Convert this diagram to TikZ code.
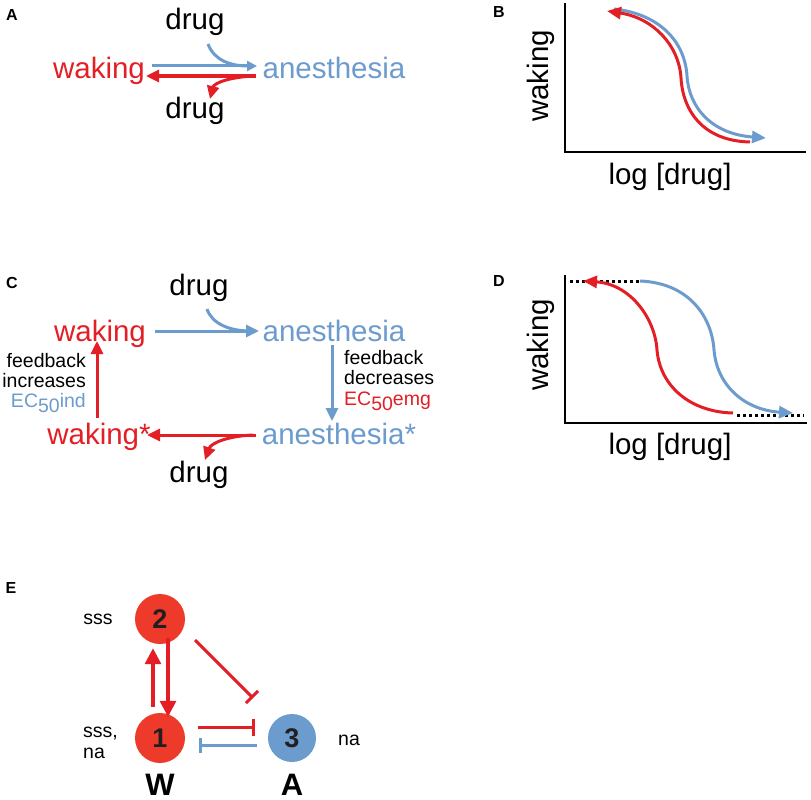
\documentclass[tikz,border=0pt]{standalone}
\usepackage{fontspec}
\setmainfont{Liberation Sans}
\usetikzlibrary{arrows.meta,calc}
\definecolor{wred}{RGB}{227,30,36}
\definecolor{nred}{RGB}{238,58,43}
\definecolor{ablue}{RGB}{108,155,205}
\definecolor{dark}{RGB}{35,31,32}
\begin{document}
\begin{tikzpicture}[x=1pt,y=-1pt,
  big/.style={font=\fontsize{29.5}{30}\selectfont, inner sep=0pt, anchor=base},
  axlab/.style={font=\fontsize{29.5}{30}\selectfont, inner sep=0pt},
  small/.style={font=\fontsize{19.5}{21}\selectfont, inner sep=0pt, anchor=base},
  panel/.style={font=\fontsize{16}{16}\selectfont\bfseries, inner sep=0pt},
  conn/.style={line width=3pt},
  tipA/.style={-{Triangle[length=13pt,width=12pt]}},
  tipS/.style={-{Triangle[length=10pt,width=10pt]}},
  axis/.style={line width=2.6pt, black},
  dots/.style={line width=3pt, dash pattern=on 3pt off 3pt, black},
  circ/.style={circle, minimum size=50pt, inner sep=0pt, font=\fontsize{27}{30}\selectfont\bfseries, text=dark},
  inh/.style={line width=3pt, -{Bar[width=17pt,line width=3pt]}},
  bigarr/.style={line width=3.2pt, -{Triangle[length=16pt,width=16pt]}}
]
\useasboundingbox (0,0) rectangle (811,800);

% panel letters
\node[panel] (pA) at (12,15) {A};
\node[panel] (pB) at (499,12) {B};
\node[panel] (pC) at (12,283) {C};
\node[panel] (pD) at (499,281) {D};
\node[panel] (pE) at (11,588) {E};

% ---------------- Panel A
\node[big] (aDrug1) at (195,30) {drug};
\node[big, text=wred] (aWak) at (99,78) {waking};
\node[big, text=ablue] (aAne) at (334,78) {anesthesia};
\node[big] (aDrug2) at (195,118) {drug};
\coordinate (aB1) at (152,66);
\coordinate (aB2) at (257,66);
\coordinate (aR1) at (256,76);
\coordinate (aR2) at (146,76);
\draw[conn, ablue, tipS] (aB1) -- (aB2);
\draw[conn, ablue] (208,44) .. controls (214,60) and (230,66) .. (248,66);
\draw[conn, wred, tipA] (aR1) -- (aR2);
\draw[conn, wred, tipA] (254,76) .. controls (230,77) and (214,83) .. (210,99);

% ---------------- Panel B
\draw[axis] (565,3) -- (565,152) -- (806,152);
\node[axlab, rotate=90] (bY) at (541,76) {waking};
\node[axlab] (bX) at (670,177) {log [drug]};
\draw[conn, ablue, -{Triangle[length=14pt,width=12pt]}] (614,9) .. controls (660,14) and (685,42) .. (687,76) .. controls (689,108) and (712,134) .. (766,138);
\draw[conn, wred, {Triangle[length=14pt,width=12pt]}-] (607,11) .. controls (653,18) and (679,45) .. (681,78) .. controls (683,112) and (704,141) .. (750,142);

% ---------------- Panel C
\node[big] (cDrug1) at (199,295) {drug};
\node[big, text=wred] (cWak) at (100,341) {waking};
\node[big, text=ablue] (cAne) at (334,341) {anesthesia};
\node[big, text=wred] (cWakS) at (99,444) {waking*};
\node[big, text=ablue] (cAneS) at (339,444) {anesthesia*};
\node[big] (cDrug2) at (199,482) {drug};
\draw[conn, ablue, tipA] (155,331) -- (259,331);
\draw[conn, ablue] (207,309) .. controls (212,324) and (230,331) .. (250,331);
\draw[conn, ablue, tipA] (332,345) -- (332,421);
\draw[conn, wred, tipA] (256,435) -- (147,435);
\draw[conn, wred, tipA] (253,435) .. controls (228,436) and (211,443) .. (205,460);
\draw[conn, wred, tipA] (97,418) -- (97,341);
\node[small, anchor=base east] (cl1) at (86,367) {feedback};
\node[small, anchor=base east] (cl2) at (86,387) {increases};
\node[small, anchor=base east, text=ablue] (cl3) at (86,407) {EC\raisebox{-5pt}{50}ind};
\node[small, anchor=base west] (cr1) at (344,364) {feedback};
\node[small, anchor=base west] (cr2) at (344,384) {decreases};
\node[small, anchor=base west, text=wred] (cr3) at (344,405) {EC\raisebox{-5pt}{50}emg};

% ---------------- Panel D
\draw[axis] (565,275) -- (565,423) -- (807,423);
\node[axlab, rotate=90] (dY) at (541,345) {waking};
\node[axlab] (dX) at (670,447) {log [drug]};
\draw[dots] (570,281) -- (640,281);
\draw[dots] (737,415) -- (804,415);
\draw[conn, wred, {Triangle[length=14pt,width=12pt]}-] (583,281) .. controls (630,284) and (655,318) .. (657,350) .. controls (660,386) and (690,412) .. (733,413);
\draw[conn, ablue, -{Triangle[length=14pt,width=12pt]}] (640,281) .. controls (690,283) and (712,318) .. (714,350) .. controls (717,386) and (745,410) .. (793,413);

% ---------------- Panel E
\node[circ, fill=nred] (n2) at (160,619) {2};
\node[circ, fill=nred] (n1) at (160,738) {1};
\node[circ, fill=ablue, minimum size=48pt] (n3) at (292,738) {3};
\node[small, anchor=base] (l2) at (98,624) {sss};
\node[small, anchor=base west] (l1a) at (83,737) {sss,};
\node[small, anchor=base west] (l1b) at (83,758) {na};
\node[small, anchor=base west] (l3) at (338,745) {na};
\node[font=\fontsize{31}{32}\selectfont\bfseries, inner sep=0pt, anchor=base] (W) at (160,795) {W};
\node[font=\fontsize{31}{32}\selectfont\bfseries, inner sep=0pt, anchor=base] (A) at (292,795) {A};
\draw[bigarr, wred] ($(n1.north)+(-7,-6)$) -- ($(n2.south)+(-7,4)$);
\draw[bigarr, wred] ($(n2.south)+(8,-6)$) -- ($(n1.north)+(8,4)$);
\draw[inh, wred] (195,640) -- (253,698);
\draw[inh, wred] ($(n1.east)+(13,-11)$) -- ($(n3.west)+(-13,-11)$);
\draw[inh, ablue, -{Bar[width=15pt,line width=3pt]}] ($(n3.west)+(-11,7)$) -- ($(n1.east)+(14,7)$);
\end{tikzpicture}
\end{document}
